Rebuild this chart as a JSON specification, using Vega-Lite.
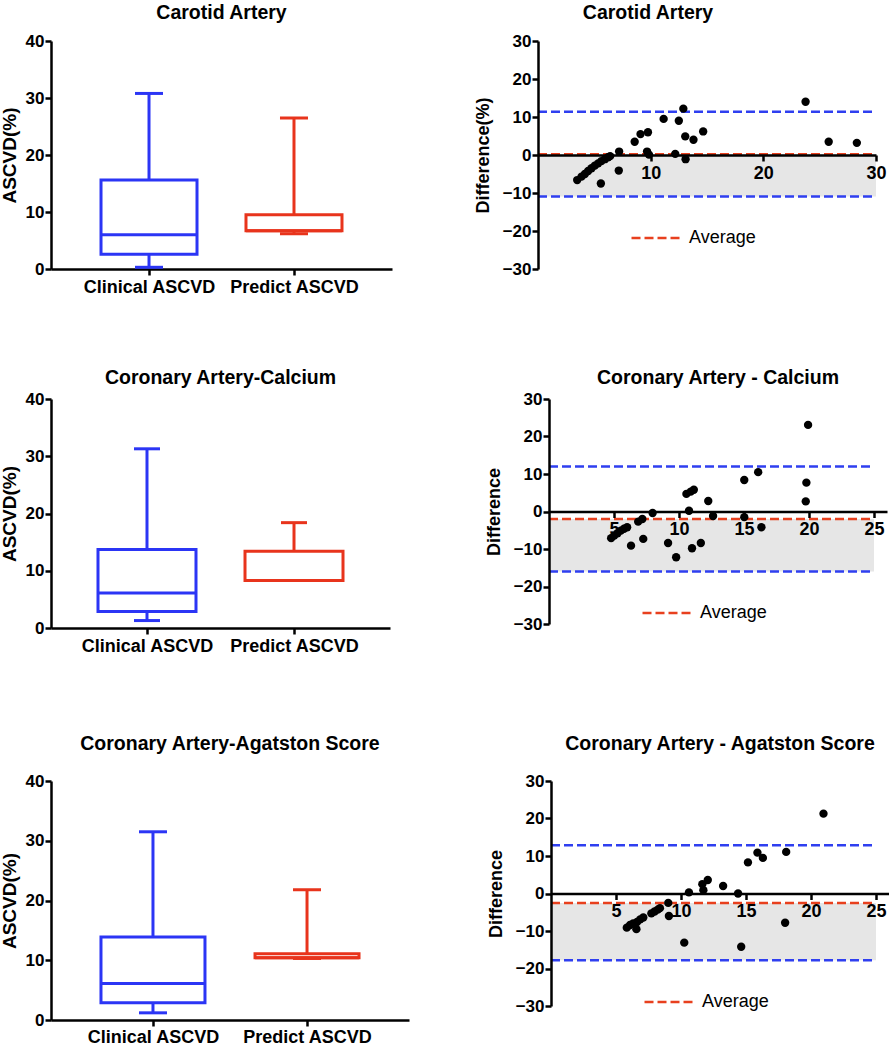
{
  "$schema": "https://vega.github.io/schema/vega-lite/v6.json",
  "padding": {"left": 0, "top": 2, "right": 0, "bottom": 0},
  "background": "white",
  "datasets": {
    "box": [
      {"panel": "carotid", "group": "Clinical ASCVD", "min": 0.3, "q1": 2.6, "median": 6.0, "q3": 15.6, "max": 30.8},
      {"panel": "carotid", "group": "Predict ASCVD", "min": 6.2, "q1": 6.7, "median": 6.7, "q3": 9.5, "max": 26.5},
      {"panel": "calcium", "group": "Clinical ASCVD", "min": 1.3, "q1": 2.9, "median": 6.1, "q3": 13.7, "max": 31.3},
      {"panel": "calcium", "group": "Predict ASCVD", "min": 8.3, "q1": 8.3, "median": 8.3, "q3": 13.4, "max": 18.4},
      {"panel": "agatston", "group": "Clinical ASCVD", "min": 1.2, "q1": 2.9, "median": 6.1, "q3": 13.9, "max": 31.5},
      {"panel": "agatston", "group": "Predict ASCVD", "min": 10.3, "q1": 10.4, "median": 10.4, "q3": 11.1, "max": 21.8}
    ],
    "lines": [
      {"panel": "carotid", "xmin": 0, "xmax": 30, "mean": 0.2, "upper": 11.4, "lower": -10.9, "label": "Average"},
      {"panel": "calcium", "xmin": 0, "xmax": 25, "mean": -2.0, "upper": 12.0, "lower": -16.0, "label": "Average"},
      {"panel": "agatston", "xmin": 0, "xmax": 25, "mean": -2.5, "upper": 12.9, "lower": -17.8, "label": "Average"}
    ],
    "ba": [
      {"panel": "carotid", "avg": 3.48, "diff": -6.6},
      {"panel": "carotid", "avg": 3.86, "diff": -5.7},
      {"panel": "carotid", "avg": 4.16, "diff": -5.0},
      {"panel": "carotid", "avg": 4.45, "diff": -4.2},
      {"panel": "carotid", "avg": 4.75, "diff": -3.5},
      {"panel": "carotid", "avg": 5.04, "diff": -2.8},
      {"panel": "carotid", "avg": 5.34, "diff": -2.2},
      {"panel": "carotid", "avg": 5.63, "diff": -1.6},
      {"panel": "carotid", "avg": 5.93, "diff": -1.1},
      {"panel": "carotid", "avg": 6.22, "diff": -0.6},
      {"panel": "carotid", "avg": 6.4, "diff": -0.3},
      {"panel": "carotid", "avg": 5.58, "diff": -7.5},
      {"panel": "carotid", "avg": 7.2, "diff": 0.9},
      {"panel": "carotid", "avg": 7.17, "diff": -4.1},
      {"panel": "carotid", "avg": 8.58, "diff": 3.5},
      {"panel": "carotid", "avg": 9.1, "diff": 5.5},
      {"panel": "carotid", "avg": 9.76, "diff": 6.0},
      {"panel": "carotid", "avg": 9.68, "diff": 0.9},
      {"panel": "carotid", "avg": 9.85, "diff": 0.1},
      {"panel": "carotid", "avg": 11.15, "diff": 9.5},
      {"panel": "carotid", "avg": 12.18, "diff": 0.3},
      {"panel": "carotid", "avg": 12.5, "diff": 9.0},
      {"panel": "carotid", "avg": 12.9, "diff": 12.2},
      {"panel": "carotid", "avg": 13.07, "diff": 4.9},
      {"panel": "carotid", "avg": 13.1, "diff": -1.1},
      {"panel": "carotid", "avg": 13.8, "diff": 4.0},
      {"panel": "carotid", "avg": 14.66, "diff": 6.2},
      {"panel": "carotid", "avg": 23.75, "diff": 14.0},
      {"panel": "carotid", "avg": 25.8, "diff": 3.5},
      {"panel": "carotid", "avg": 28.3, "diff": 3.2},
      {"panel": "calcium", "avg": 4.78, "diff": -7.1},
      {"panel": "calcium", "avg": 5.02, "diff": -6.4},
      {"panel": "calcium", "avg": 5.27, "diff": -5.8},
      {"panel": "calcium", "avg": 5.52, "diff": -5.1},
      {"panel": "calcium", "avg": 5.77, "diff": -4.6},
      {"panel": "calcium", "avg": 6.01, "diff": -4.2},
      {"panel": "calcium", "avg": 6.31, "diff": -9.1},
      {"panel": "calcium", "avg": 6.86, "diff": -2.7},
      {"panel": "calcium", "avg": 7.18, "diff": -2.0},
      {"panel": "calcium", "avg": 7.25, "diff": -7.3},
      {"panel": "calcium", "avg": 7.97, "diff": -0.4},
      {"panel": "calcium", "avg": 9.16, "diff": -8.4},
      {"panel": "calcium", "avg": 9.78, "diff": -12.2},
      {"panel": "calcium", "avg": 10.57, "diff": 4.7},
      {"panel": "calcium", "avg": 10.9, "diff": 5.3},
      {"panel": "calcium", "avg": 11.14, "diff": 5.8},
      {"panel": "calcium", "avg": 10.77, "diff": 0.2},
      {"panel": "calcium", "avg": 11.0, "diff": -9.8},
      {"panel": "calcium", "avg": 11.68, "diff": -8.4},
      {"panel": "calcium", "avg": 12.25, "diff": 2.8},
      {"panel": "calcium", "avg": 12.62, "diff": -1.2},
      {"panel": "calcium", "avg": 15.02, "diff": 8.4},
      {"panel": "calcium", "avg": 15.02, "diff": -1.5},
      {"panel": "calcium", "avg": 16.09, "diff": 10.5},
      {"panel": "calcium", "avg": 16.34, "diff": -4.2},
      {"panel": "calcium", "avg": 19.93, "diff": 23.1},
      {"panel": "calcium", "avg": 19.8, "diff": 7.7},
      {"panel": "calcium", "avg": 19.75, "diff": 2.7},
      {"panel": "agatston", "avg": 5.83, "diff": -9.1},
      {"panel": "agatston", "avg": 6.08, "diff": -8.4},
      {"panel": "agatston", "avg": 6.32, "diff": -8.0},
      {"panel": "agatston", "avg": 6.57, "diff": -9.5},
      {"panel": "agatston", "avg": 6.62, "diff": -7.6},
      {"panel": "agatston", "avg": 6.86, "diff": -6.9},
      {"panel": "agatston", "avg": 7.1, "diff": -6.4},
      {"panel": "agatston", "avg": 7.72, "diff": -5.3},
      {"panel": "agatston", "avg": 7.97, "diff": -4.8},
      {"panel": "agatston", "avg": 8.21, "diff": -4.3},
      {"panel": "agatston", "avg": 8.38, "diff": -3.9},
      {"panel": "agatston", "avg": 9.02, "diff": -2.5},
      {"panel": "agatston", "avg": 9.07, "diff": -6.0},
      {"panel": "agatston", "avg": 10.25, "diff": -13.1},
      {"panel": "agatston", "avg": 10.61, "diff": 0.3},
      {"panel": "agatston", "avg": 11.64, "diff": 2.5},
      {"panel": "agatston", "avg": 11.72, "diff": 0.9},
      {"panel": "agatston", "avg": 12.06, "diff": 3.6},
      {"panel": "agatston", "avg": 13.24, "diff": 2.0},
      {"panel": "agatston", "avg": 14.39, "diff": 0.0},
      {"panel": "agatston", "avg": 14.63, "diff": -14.2},
      {"panel": "agatston", "avg": 15.15, "diff": 8.3},
      {"panel": "agatston", "avg": 15.88, "diff": 10.9},
      {"panel": "agatston", "avg": 16.3, "diff": 9.5},
      {"panel": "agatston", "avg": 18.09, "diff": 11.1},
      {"panel": "agatston", "avg": 18.01, "diff": -7.8},
      {"panel": "agatston", "avg": 20.96, "diff": 21.3}
    ]
  },
  "resolve": {"scale": {"color": "independent"}, "legend": {"color": "independent"}},
  "spacing": 78,
  "vconcat": [
    {
      "resolve": {"scale": {"color": "independent"}, "legend": {"color": "independent"}},
      "spacing": 71,
      "vconcat": [
        {
          "resolve": {"scale": {"color": "independent"}, "legend": {"color": "independent"}},
          "spacing": 82,
          "hconcat": [
            {
              "width": 341, "height": 228,
              "title": {"text": "Carotid Artery", "offset": 9},
              "data": {"name": "box"},
              "transform": [{"filter": "datum.panel === 'carotid'"}],
              "encoding": {
                "x": {"field": "group", "type": "nominal", "sort": null, "scale": {"type": "point", "padding": 0.676}, "axis": {"title": null, "labelAngle": 0, "labelPadding": 3, "labelFontSize": 18}},
                "color": {"field": "group", "type": "nominal", "scale": {"domain": ["Clinical ASCVD", "Predict ASCVD"], "range": ["#2b35f5", "#e8341c"]}, "legend": null}
              },
              "layer": [
                {"mark": {"type": "rule", "strokeWidth": 3}, "encoding": {"y": {"field": "q3", "type": "quantitative", "scale": {"domain": [0, 40]}, "axis": {"title": "ASCVD(%)", "values": [0, 10, 20, 30, 40], "titlePadding": 6}}, "y2": {"field": "max"}}},
                {"mark": {"type": "rule", "strokeWidth": 3}, "encoding": {"y": {"field": "min", "type": "quantitative"}, "y2": {"field": "q1"}}},
                {"mark": {"type": "bar", "filled": false, "strokeWidth": 3, "size": 96}, "encoding": {"y": {"field": "q1", "type": "quantitative"}, "y2": {"field": "q3"}}},
                {"mark": {"type": "tick", "thickness": 3, "size": 96, "opacity": 1}, "encoding": {"y": {"field": "median", "type": "quantitative"}}},
                {"mark": {"type": "tick", "thickness": 3, "size": 28, "opacity": 1}, "encoding": {"y": {"field": "max", "type": "quantitative"}}},
                {"mark": {"type": "tick", "thickness": 3, "size": 28, "opacity": 1}, "encoding": {"y": {"field": "min", "type": "quantitative"}}}
              ]
            },
            {
              "width": 338, "height": 228,
              "title": {"text": "Carotid Artery", "offset": 9, "dx": -59},
              "layer": [
                {
                  "data": {"name": "lines"}, "transform": [{"filter": "datum.panel === 'carotid'"}],
                  "mark": {"type": "rect", "color": "#e6e6e6"},
                  "encoding": {
                    "x": {"field": "xmin", "type": "quantitative", "scale": {"domain": [0, 30]}, "axis": {"title": null, "values": [10, 20, 30], "offset": -114, "zindex": 1, "labelPadding": 3, "labelFontSize": 18}},
                    "x2": {"field": "xmax"},
                    "y": {"field": "mean", "type": "quantitative", "scale": {"domain": [-30, 30]}, "axis": {"title": "Difference(%)", "titleFontSize": 18, "values": [-30, -20, -10, 0, 10, 20, 30], "tickCount": 7, "labelOverlap": false, "labelBound": false, "zindex": 1, "titlePadding": 10}},
                    "y2": {"field": "lower"}
                  }
                },
                {"data": {"name": "lines"}, "transform": [{"filter": "datum.panel === 'carotid'"}], "mark": {"type": "rule", "color": "#2f3ff0", "strokeDash": [9, 4], "strokeWidth": 2.5}, "encoding": {"x": {"field": "xmin", "type": "quantitative"}, "x2": {"field": "xmax"}, "y": {"field": "upper", "type": "quantitative"}}},
                {"data": {"name": "lines"}, "transform": [{"filter": "datum.panel === 'carotid'"}], "mark": {"type": "rule", "color": "#2f3ff0", "strokeDash": [9, 4], "strokeWidth": 2.5}, "encoding": {"x": {"field": "xmin", "type": "quantitative"}, "x2": {"field": "xmax"}, "y": {"field": "lower", "type": "quantitative"}}},
                {"data": {"name": "lines"}, "transform": [{"filter": "datum.panel === 'carotid'"}], "mark": {"type": "rule", "strokeDash": [9, 4], "strokeWidth": 2.5}, "encoding": {"x": {"field": "xmin", "type": "quantitative"}, "x2": {"field": "xmax"}, "y": {"field": "mean", "type": "quantitative"},
                  "color": {"field": "label", "type": "nominal", "scale": {"range": ["#e8401e"]}, "legend": {"orient": "none", "legendX": 92, "legendY": 171, "title": null, "padding": 0, "symbolType": "stroke", "symbolSize": 2400, "symbolStrokeWidth": 2.5, "symbolDash": [9, 4], "labelFontSize": 18, "labelFontWeight": "normal", "labelColor": "black", "labelOffset": 7}}}},
                {"data": {"name": "ba"}, "transform": [{"filter": "datum.panel === 'carotid'"}], "mark": {"type": "circle", "size": 70, "color": "black", "opacity": 1}, "encoding": {"x": {"field": "avg", "type": "quantitative"}, "y": {"field": "diff", "type": "quantitative"}}}
              ]
            }
          ]
        },
        {
          "resolve": {"scale": {"color": "independent"}, "legend": {"color": "independent"}},
          "spacing": 95,
          "hconcat": [
            {
              "width": 339, "height": 229,
              "title": {"text": "Coronary Artery-Calcium", "offset": 2},
              "data": {"name": "box"},
              "transform": [{"filter": "datum.panel === 'calcium'"}],
              "encoding": {
                "x": {"field": "group", "type": "nominal", "sort": null, "scale": {"type": "point", "padding": 0.653}, "axis": {"title": null, "labelAngle": 0, "labelPadding": 3, "labelFontSize": 18}},
                "color": {"field": "group", "type": "nominal", "scale": {"domain": ["Clinical ASCVD", "Predict ASCVD"], "range": ["#2b35f5", "#e8341c"]}, "legend": null}
              },
              "layer": [
                {"mark": {"type": "rule", "strokeWidth": 3}, "encoding": {"y": {"field": "q3", "type": "quantitative", "scale": {"domain": [0, 40]}, "axis": {"title": "ASCVD(%)", "values": [0, 10, 20, 30, 40], "titlePadding": 6}}, "y2": {"field": "max"}}},
                {"mark": {"type": "rule", "strokeWidth": 3}, "encoding": {"y": {"field": "min", "type": "quantitative"}, "y2": {"field": "q1"}}},
                {"mark": {"type": "bar", "filled": false, "strokeWidth": 3, "size": 98}, "encoding": {"y": {"field": "q1", "type": "quantitative"}, "y2": {"field": "q3"}}},
                {"mark": {"type": "tick", "thickness": 3, "size": 98, "opacity": 1}, "encoding": {"y": {"field": "median", "type": "quantitative"}}},
                {"mark": {"type": "tick", "thickness": 3, "size": 26, "opacity": 1}, "encoding": {"y": {"field": "max", "type": "quantitative"}}},
                {"mark": {"type": "tick", "thickness": 3, "size": 26, "opacity": 1}, "encoding": {"y": {"field": "min", "type": "quantitative"}}}
              ]
            },
            {
              "width": 338, "height": 225,
              "title": {"text": "Coronary Artery - Calcium", "offset": 2},
              "layer": [
                {
                  "data": {"name": "lines"}, "transform": [{"filter": "datum.panel === 'calcium'"}],
                  "mark": {"type": "rect", "color": "#e6e6e6"},
                  "encoding": {
                    "x": {"field": "xmin", "type": "quantitative", "scale": {"domain": [0, 25]}, "axis": {"title": null, "values": [5, 10, 15, 20, 25], "offset": -112.5, "zindex": 1, "labelPadding": 3, "labelFontSize": 18}},
                    "x2": {"field": "xmax"},
                    "y": {"field": "mean", "type": "quantitative", "scale": {"domain": [-30, 30]}, "axis": {"title": "Difference", "titleFontSize": 18, "values": [-30, -20, -10, 0, 10, 20, 30], "tickCount": 7, "labelOverlap": false, "labelBound": false, "zindex": 1, "titlePadding": 10}},
                    "y2": {"field": "lower"}
                  }
                },
                {"data": {"name": "lines"}, "transform": [{"filter": "datum.panel === 'calcium'"}], "mark": {"type": "rule", "color": "#2f3ff0", "strokeDash": [9, 4], "strokeWidth": 2.5}, "encoding": {"x": {"field": "xmin", "type": "quantitative"}, "x2": {"field": "xmax"}, "y": {"field": "upper", "type": "quantitative"}}},
                {"data": {"name": "lines"}, "transform": [{"filter": "datum.panel === 'calcium'"}], "mark": {"type": "rule", "color": "#2f3ff0", "strokeDash": [9, 4], "strokeWidth": 2.5}, "encoding": {"x": {"field": "xmin", "type": "quantitative"}, "x2": {"field": "xmax"}, "y": {"field": "lower", "type": "quantitative"}}},
                {"data": {"name": "lines"}, "transform": [{"filter": "datum.panel === 'calcium'"}], "mark": {"type": "rule", "strokeDash": [9, 4], "strokeWidth": 2.5}, "encoding": {"x": {"field": "xmin", "type": "quantitative"}, "x2": {"field": "xmax"}, "y": {"field": "mean", "type": "quantitative"},
                  "color": {"field": "label", "type": "nominal", "scale": {"range": ["#e8401e"]}, "legend": {"orient": "none", "legendX": 92, "legendY": 188, "title": null, "padding": 0, "symbolType": "stroke", "symbolSize": 2400, "symbolStrokeWidth": 2.5, "symbolDash": [9, 4], "labelFontSize": 18, "labelFontWeight": "normal", "labelColor": "black", "labelOffset": 7}}}},
                {"data": {"name": "ba"}, "transform": [{"filter": "datum.panel === 'calcium'"}], "mark": {"type": "circle", "size": 70, "color": "black", "opacity": 1}, "encoding": {"x": {"field": "avg", "type": "quantitative"}, "y": {"field": "diff", "type": "quantitative"}}}
              ]
            }
          ]
        }
      ]
    },
    {
      "resolve": {"scale": {"color": "independent"}, "legend": {"color": "independent"}},
      "spacing": 78,
      "hconcat": [
        {
          "width": 358, "height": 239,
          "title": {"text": "Coronary Artery-Agatston Score", "offset": 18},
          "data": {"name": "box"},
          "transform": [{"filter": "datum.panel === 'agatston'"}],
          "encoding": {
            "x": {"field": "group", "type": "nominal", "sort": null, "scale": {"type": "point", "padding": 0.662}, "axis": {"title": null, "labelAngle": 0, "labelPadding": 2, "labelFontSize": 18}},
            "color": {"field": "group", "type": "nominal", "scale": {"domain": ["Clinical ASCVD", "Predict ASCVD"], "range": ["#2b35f5", "#e8341c"]}, "legend": null}
          },
          "layer": [
            {"mark": {"type": "rule", "strokeWidth": 3}, "encoding": {"y": {"field": "q3", "type": "quantitative", "scale": {"domain": [0, 40]}, "axis": {"title": "ASCVD(%)", "values": [0, 10, 20, 30, 40], "titlePadding": 6}}, "y2": {"field": "max"}}},
            {"mark": {"type": "rule", "strokeWidth": 3}, "encoding": {"y": {"field": "min", "type": "quantitative"}, "y2": {"field": "q1"}}},
            {"mark": {"type": "bar", "filled": false, "strokeWidth": 3, "size": 104}, "encoding": {"y": {"field": "q1", "type": "quantitative"}, "y2": {"field": "q3"}}},
            {"mark": {"type": "tick", "thickness": 3, "size": 104, "opacity": 1}, "encoding": {"y": {"field": "median", "type": "quantitative"}}},
            {"mark": {"type": "tick", "thickness": 3, "size": 28, "opacity": 1}, "encoding": {"y": {"field": "max", "type": "quantitative"}}},
            {"mark": {"type": "tick", "thickness": 3, "size": 28, "opacity": 1}, "encoding": {"y": {"field": "min", "type": "quantitative"}}}
          ]
        },
        {
          "width": 338, "height": 225,
          "title": {"text": "Coronary Artery - Agatston Score", "offset": 18},
          "layer": [
            {
              "data": {"name": "lines"}, "transform": [{"filter": "datum.panel === 'agatston'"}],
              "mark": {"type": "rect", "color": "#e6e6e6"},
              "encoding": {
                "x": {"field": "xmin", "type": "quantitative", "scale": {"domain": [0, 25]}, "axis": {"title": null, "values": [5, 10, 15, 20, 25], "offset": -112.5, "zindex": 1, "labelPadding": 3, "labelFontSize": 18}},
                "x2": {"field": "xmax"},
                "y": {"field": "mean", "type": "quantitative", "scale": {"domain": [-30, 30]}, "axis": {"title": "Difference", "titleFontSize": 18, "values": [-30, -20, -10, 0, 10, 20, 30], "tickCount": 7, "labelOverlap": false, "labelBound": false, "zindex": 1, "titlePadding": 10}},
                "y2": {"field": "lower"}
              }
            },
            {"data": {"name": "lines"}, "transform": [{"filter": "datum.panel === 'agatston'"}], "mark": {"type": "rule", "color": "#2f3ff0", "strokeDash": [9, 4], "strokeWidth": 2.5}, "encoding": {"x": {"field": "xmin", "type": "quantitative"}, "x2": {"field": "xmax"}, "y": {"field": "upper", "type": "quantitative"}}},
            {"data": {"name": "lines"}, "transform": [{"filter": "datum.panel === 'agatston'"}], "mark": {"type": "rule", "color": "#2f3ff0", "strokeDash": [9, 4], "strokeWidth": 2.5}, "encoding": {"x": {"field": "xmin", "type": "quantitative"}, "x2": {"field": "xmax"}, "y": {"field": "lower", "type": "quantitative"}}},
            {"data": {"name": "lines"}, "transform": [{"filter": "datum.panel === 'agatston'"}], "mark": {"type": "rule", "strokeDash": [9, 4], "strokeWidth": 2.5}, "encoding": {"x": {"field": "xmin", "type": "quantitative"}, "x2": {"field": "xmax"}, "y": {"field": "mean", "type": "quantitative"},
              "color": {"field": "label", "type": "nominal", "scale": {"range": ["#e8401e"]}, "legend": {"orient": "none", "legendX": 92, "legendY": 195, "title": null, "padding": 0, "symbolType": "stroke", "symbolSize": 2400, "symbolStrokeWidth": 2.5, "symbolDash": [9, 4], "labelFontSize": 18, "labelFontWeight": "normal", "labelColor": "black", "labelOffset": 7}}}},
            {"data": {"name": "ba"}, "transform": [{"filter": "datum.panel === 'agatston'"}], "mark": {"type": "circle", "size": 70, "color": "black", "opacity": 1}, "encoding": {"x": {"field": "avg", "type": "quantitative"}, "y": {"field": "diff", "type": "quantitative"}}}
          ]
        }
      ]
    }
  ],
  "config": {
    "view": {"stroke": null},
    "font": "Liberation Sans",
    "axis": {"domainColor": "black", "domainWidth": 2.5, "tickColor": "black", "tickWidth": 2.5, "tickSize": 6, "labelFont": "Liberation Sans", "labelFontSize": 17, "labelFontWeight": "bold", "labelColor": "black", "labelPadding": 1, "labelOverlap": false, "labelFlush": false, "titleFont": "Liberation Sans", "titleFontSize": 19, "titleFontWeight": "bold", "titleColor": "black", "grid": false, "titlePadding": 10},
    "legend": {"labelFont": "Liberation Sans"},
    "title": {"font": "Liberation Sans", "fontSize": 19.5, "fontWeight": "bold", "color": "black"}
  }
}
